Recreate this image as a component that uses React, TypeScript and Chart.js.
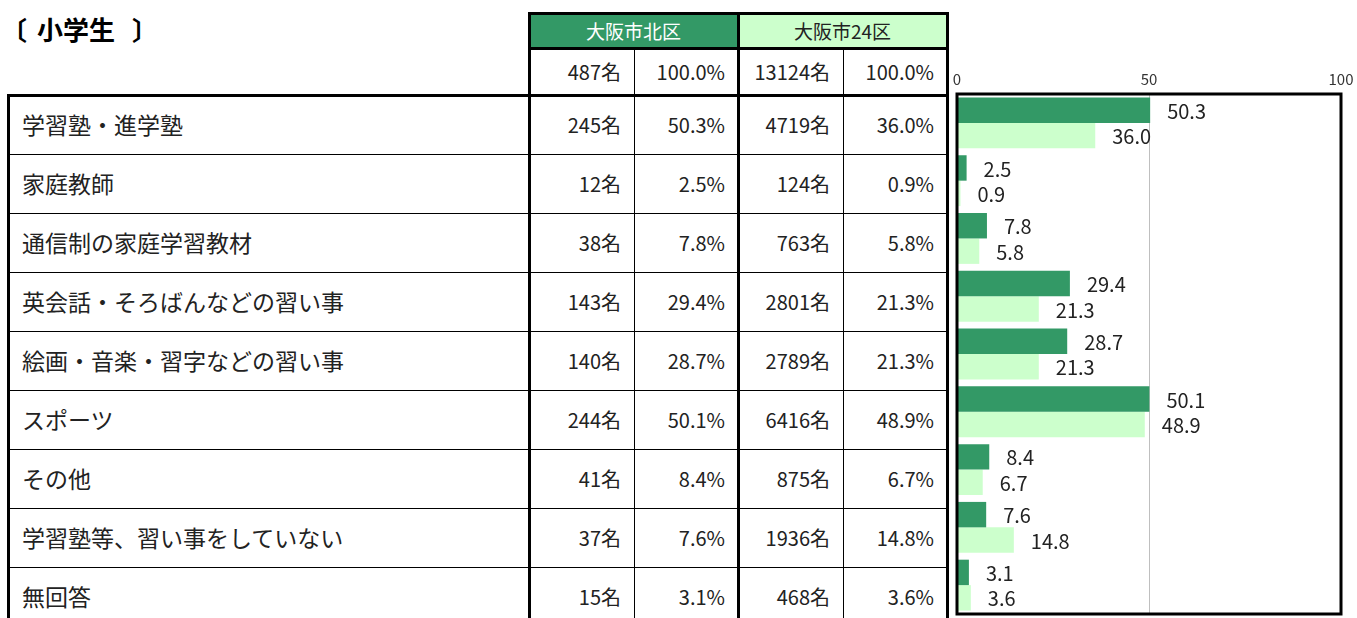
import React, { useEffect, useRef } from "react";
import { Chart, registerables } from "chart.js";

Chart.register(...registerables);

// ---- data ----
const titleParts = ["〔", "小学生", "〕"];
const areaNames = ["大阪市北区", "大阪市24区"];
const areaTotals = [487, 13124];
const categories = [
  "学習塾・進学塾",
  "家庭教師",
  "通信制の家庭学習教材",
  "英会話・そろばんなどの習い事",
  "絵画・音楽・習字などの習い事",
  "スポーツ",
  "その他",
  "学習塾等、習い事をしていない",
  "無回答",
];
const kitaCounts = [245, 12, 38, 143, 140, 244, 41, 37, 15];
const kitaPct = [50.3, 2.5, 7.8, 29.4, 28.7, 50.1, 8.4, 7.6, 3.1];
const cityCounts = [4719, 124, 763, 2801, 2789, 6416, 875, 1936, 468];
const cityPct = [36.0, 0.9, 5.8, 21.3, 21.3, 48.9, 6.7, 14.8, 3.6];
const xTicks = [0, 50, 100];

// ---- styles / layout ----
const FONT = '"Noto Sans CJK JP", "Noto Sans", sans-serif';
const DARK = "#339966";
const LIGHT = "#CCFFCC";
const TEXT = "#222222";
const COL_X = [8, 529, 634, 738, 843, 947];
const HEAD_TOP = 13;
const HEAD_MID = 48;
const BODY_TOP = 95;
const ROW_H = 59;
const BOTTOM = 640;

function Line({ x, y, w, h }: { x: number; y: number; w: number; h: number }) {
  return (
    <div
      style={{ position: "absolute", left: x, top: y, width: w, height: h, background: "#000" }}
    />
  );
}

function Cell({ x1, x2, y, h, text, align, size, color, bg, pad }: any) {
  return (
    <div
      style={{
        position: "absolute",
        left: x1,
        top: y,
        width: x2 - x1,
        height: h,
        background: bg || "transparent",
        display: "flex",
        alignItems: "center",
        justifyContent: align === "right" ? "flex-end" : align === "center" ? "center" : "flex-start",
        boxSizing: "border-box",
        paddingRight: align === "right" ? pad : 0,
        paddingLeft: align === "left" ? pad : 0,
        fontFamily: FONT,
        fontSize: size,
        color: color || TEXT,
        whiteSpace: "nowrap",
        lineHeight: 1,
      }}
    >
      {text}
    </div>
  );
}

export default function App() {
  const canvasRef = useRef<HTMLCanvasElement | null>(null);

  useEffect(() => {
    if (!canvasRef.current) return;
    const boxPlugin = {
      id: "boxAndLabels",
      afterDatasetsDraw(chart: any) {
        const { ctx, chartArea } = chart;
        ctx.save();
        ctx.font = `20px ${FONT}`;
        ctx.fillStyle = TEXT;
        ctx.textAlign = "left";
        ctx.textBaseline = "middle";
        chart.data.datasets.forEach((ds: any, di: number) => {
          const meta = chart.getDatasetMeta(di);
          meta.data.forEach((el: any, i: number) => {
            ctx.fillText(Number(ds.data[i]).toFixed(1), el.x + 17, el.y + 1);
          });
        });
        ctx.strokeStyle = "#000";
        ctx.lineWidth = 3;
        ctx.strokeRect(
          chartArea.left,
          chartArea.top,
          chartArea.right - chartArea.left,
          chartArea.bottom - chartArea.top
        );
        ctx.restore();
      },
    };

    const chart = new Chart(canvasRef.current, {
      type: "bar",
      data: {
        labels: categories,
        datasets: [
          {
            label: areaNames[0],
            data: kitaPct,
            backgroundColor: DARK,
            borderWidth: 0,
            barPercentage: 1,
            categoryPercentage: 0.88,
          },
          {
            label: areaNames[1],
            data: cityPct,
            backgroundColor: LIGHT,
            borderWidth: 0,
            barPercentage: 1,
            categoryPercentage: 0.88,
          },
        ],
      },
      options: {
        indexAxis: "y",
        responsive: false,
        animation: false,
        devicePixelRatio: 1,
        layout: { padding: { left: 17, right: 16, top: 4, bottom: 4 } },
        plugins: {
          legend: { display: false },
          tooltip: { enabled: false },
          title: { display: false },
        },
        scales: {
          x: {
            position: "top",
            min: xTicks[0],
            max: xTicks[xTicks.length - 1],
            afterBuildTicks: (axis: any) => {
              axis.ticks = xTicks.map((v) => ({ value: v }));
            },
            ticks: {
              font: { family: FONT, size: 15, lineHeight: 2 },
              color: "#333",
              padding: 0,
              maxRotation: 0,
            },
            grid: {
              drawTicks: false,
              color: (c: any) => (c.tick && c.tick.value === 50 ? "#BFBFBF" : "rgba(0,0,0,0)"),
              lineWidth: 1,
            },
            border: { display: false },
          },
          y: {
            display: false,
          },
        },
      },
      plugins: [boxPlugin],
    } as any);
    return () => chart.destroy();
  }, []);

  const thick = 3;
  const rows = categories.map((_, i) => BODY_TOP + i * ROW_H);
  const titleStyle: React.CSSProperties = {
    position: "absolute",
    top: 13,
    fontFamily: FONT,
    fontSize: 26,
    fontWeight: 700,
    color: "#000",
    lineHeight: "32px",
    whiteSpace: "pre",
  };

  return (
    <div
      style={{
        position: "absolute",
        left: 0,
        top: 0,
        width: 1357,
        height: 618,
        overflow: "hidden",
        background: "#fff",
      }}
    >
      {/* title */}
      <div style={{ ...titleStyle, left: 1 }}>{titleParts[0]}</div>
      <div style={{ ...titleStyle, left: 37 }}>{titleParts[1]}</div>
      <div style={{ ...titleStyle, left: 132 }}>{titleParts[2]}</div>

      {/* header cells */}
      <Cell x1={COL_X[1]} x2={COL_X[3]} y={HEAD_TOP} h={HEAD_MID - HEAD_TOP} text={areaNames[0]} align="center" size={19} color="#fff" bg={DARK} />
      <Cell x1={COL_X[3]} x2={COL_X[5]} y={HEAD_TOP} h={HEAD_MID - HEAD_TOP} text={areaNames[1]} align="center" size={19} color={TEXT} bg={LIGHT} />
      <Cell x1={COL_X[1]} x2={COL_X[2]} y={HEAD_MID} h={BODY_TOP - HEAD_MID} text={`${areaTotals[0]}名`} align="right" size={20} pad={13} />
      <Cell x1={COL_X[2]} x2={COL_X[3]} y={HEAD_MID} h={BODY_TOP - HEAD_MID} text={"100.0%"} align="right" size={20} pad={13} />
      <Cell x1={COL_X[3]} x2={COL_X[4]} y={HEAD_MID} h={BODY_TOP - HEAD_MID} text={`${areaTotals[1]}名`} align="right" size={20} pad={13} />
      <Cell x1={COL_X[4]} x2={COL_X[5]} y={HEAD_MID} h={BODY_TOP - HEAD_MID} text={"100.0%"} align="right" size={20} pad={13} />

      {/* body cells */}
      {categories.map((c, i) => (
        <React.Fragment key={c}>
          <Cell x1={COL_X[0]} x2={COL_X[1]} y={rows[i]} h={ROW_H} text={c} align="left" size={23} pad={14} />
          <Cell x1={COL_X[1]} x2={COL_X[2]} y={rows[i]} h={ROW_H} text={`${kitaCounts[i]}名`} align="right" size={20} pad={13} />
          <Cell x1={COL_X[2]} x2={COL_X[3]} y={rows[i]} h={ROW_H} text={`${kitaPct[i].toFixed(1)}%`} align="right" size={20} pad={13} />
          <Cell x1={COL_X[3]} x2={COL_X[4]} y={rows[i]} h={ROW_H} text={`${cityCounts[i]}名`} align="right" size={20} pad={13} />
          <Cell x1={COL_X[4]} x2={COL_X[5]} y={rows[i]} h={ROW_H} text={`${cityPct[i].toFixed(1)}%`} align="right" size={20} pad={13} />
        </React.Fragment>
      ))}

      {/* thin row lines */}
      {rows.slice(1).map((y) => (
        <Line key={"h" + y} x={COL_X[0]} y={y} w={COL_X[5] - COL_X[0]} h={1} />
      ))}
      {/* thin vertical lines */}
      <Line x={COL_X[2]} y={HEAD_MID} w={1} h={BOTTOM - HEAD_MID} />
      <Line x={COL_X[4]} y={HEAD_MID} w={1} h={BOTTOM - HEAD_MID} />
      {/* thick lines */}
      <Line x={COL_X[1] - 1} y={HEAD_TOP - 1} w={COL_X[5] - COL_X[1] + 2} h={thick} />
      <Line x={COL_X[1] - 1} y={HEAD_MID - 1} w={COL_X[5] - COL_X[1] + 2} h={thick} />
      <Line x={COL_X[0] - 1} y={BODY_TOP - 1} w={COL_X[5] - COL_X[0] + 2} h={thick} />
      <Line x={COL_X[0] - 1} y={BODY_TOP - 1} w={thick} h={BOTTOM - BODY_TOP} />
      <Line x={COL_X[1] - 1} y={HEAD_TOP - 1} w={thick} h={BOTTOM - HEAD_TOP} />
      <Line x={COL_X[3] - 1} y={HEAD_TOP - 1} w={thick} h={BOTTOM - HEAD_TOP} />
      <Line x={COL_X[5] - 1} y={HEAD_TOP - 1} w={thick} h={BOTTOM - HEAD_TOP} />

      {/* bar chart */}
      <canvas
        ref={canvasRef}
        width={417}
        height={558}
        style={{ position: "absolute", left: 940, top: 60, width: 417, height: 558, display: "block" }}
      />
    </div>
  );
}
